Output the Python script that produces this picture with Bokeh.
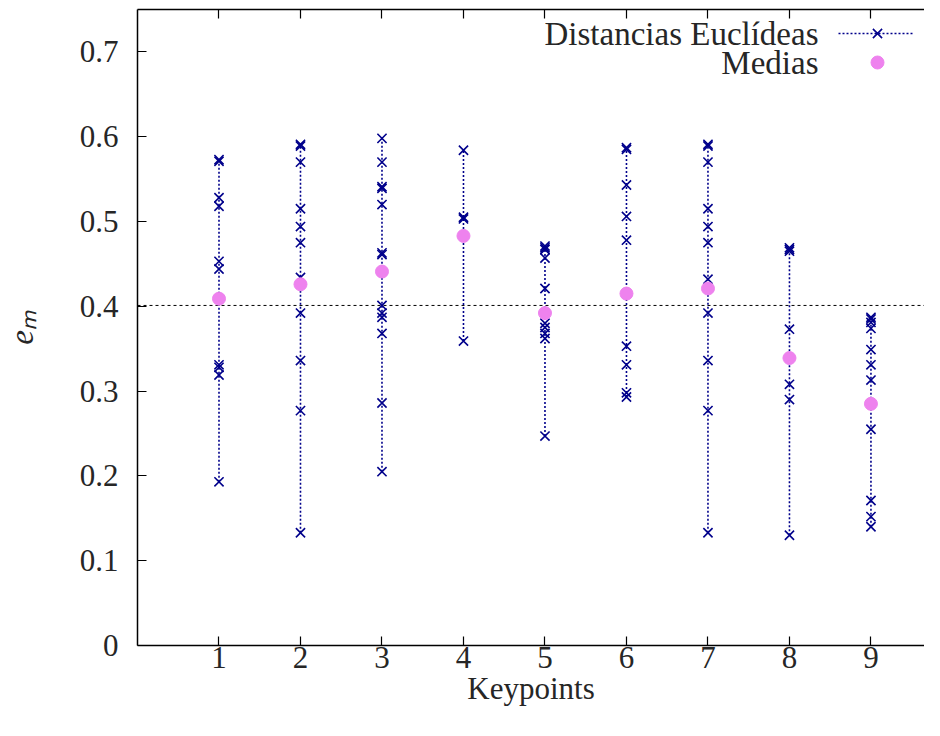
from bokeh.plotting import figure
from bokeh.models import (Range1d, FixedTicker, NumeralTickFormatter, LinearAxis,
                          Span, Label, CustomJSTickFormatter)
from bokeh.embed import file_html
from bokeh.resources import INLINE

# ---------------- data ----------------
keypoints = [1, 2, 3, 4, 5, 6, 7, 8, 9]
kp1 = [0.573, 0.571, 0.528, 0.518, 0.453, 0.444, 0.331, 0.328, 0.319, 0.193]
kp2 = [0.591, 0.589, 0.570, 0.515, 0.494, 0.475, 0.434, 0.392, 0.336, 0.277, 0.133]
kp3 = [0.598, 0.570, 0.541, 0.539, 0.520, 0.463, 0.461, 0.401, 0.392, 0.387, 0.368, 0.286, 0.205]
kp4 = [0.584, 0.505, 0.503, 0.359]
kp5 = [0.471, 0.469, 0.467, 0.457, 0.421, 0.380, 0.375, 0.368, 0.362, 0.247]
kp6 = [0.587, 0.585, 0.543, 0.506, 0.478, 0.353, 0.331, 0.298, 0.293]
kp7 = [0.591, 0.589, 0.570, 0.515, 0.494, 0.475, 0.432, 0.392, 0.336, 0.277, 0.133]
kp8 = [0.469, 0.467, 0.465, 0.373, 0.308, 0.290, 0.130]
kp9 = [0.387, 0.385, 0.381, 0.374, 0.349, 0.331, 0.313, 0.255, 0.171, 0.152, 0.140]
distancias = [kp1, kp2, kp3, kp4, kp5, kp6, kp7, kp8, kp9]
medias = [0.409, 0.426, 0.441, 0.483, 0.392, 0.415, 0.421, 0.339, 0.285]
media_global = 0.401
y_ticks = [0, 0.1, 0.2, 0.3, 0.4, 0.5, 0.6, 0.7]

serie1_label = "Distancias Euclídeas"
serie2_label = "Medias"
x_label = "Keypoints"
y_label = "eₘ"

# ---------------- style ----------------
FONT = "Liberation Serif"
TXT = "#262626"
BLUE = "#00008b"
VIOLET = "#ee82ee"
FS_TICK = "31px"
FS_XLAB = "31px"
FS_LAB = "33px"

W, H = 924, 720
BL, BT, BB = 137, 9, 75
FRAME_W, FRAME_H = W - BL, H - BT - BB

p = figure(width=W, height=H, output_backend="svg", toolbar_location=None,
           x_range=Range1d(0, 9.657), y_range=Range1d(0, 0.75),
           min_border_left=BL, min_border_right=0, min_border_top=BT,
           min_border_bottom=BB)
p.xgrid.visible = False
p.ygrid.visible = False
p.outline_line_color = None
p.background_fill_color = "white"
p.border_fill_color = "white"

# pixel-like ranges for the gnuplot-style legend (layout only)
p.extra_x_ranges = {"leg": Range1d(0, FRAME_W)}
p.extra_y_ranges = {"leg": Range1d(FRAME_H, 0)}

# axes
xa = p.xaxis[0]
xa.ticker = FixedTicker(ticks=keypoints)
ya = p.yaxis[0]
ya.ticker = FixedTicker(ticks=y_ticks)
ya.formatter = NumeralTickFormatter(format="0.[0]")
for ax in (xa, ya):
    ax.major_tick_in = 9
    ax.major_tick_out = 0
    ax.minor_tick_line_color = None
    ax.axis_line_width = 1.5
    ax.major_tick_line_width = 1.2
    ax.major_label_text_font = FONT
    ax.major_label_text_font_size = FS_TICK
    ax.major_label_text_color = TXT
    ax.axis_label_text_font = FONT
    ax.axis_label_text_font_size = FS_LAB
    ax.axis_label_text_color = TXT
    ax.axis_label_text_font_style = "normal"
xa.axis_label = x_label
xa.axis_label_text_font_size = FS_XLAB
xa.major_label_standoff = 1
xa.axis_label_standoff = 0
ya.axis_label = y_label
ya.axis_label_text_font_style = "italic"
ya.major_label_standoff = 19
ya.axis_label_standoff = 37

top = LinearAxis(ticker=FixedTicker(ticks=keypoints), major_tick_in=9,
                 major_tick_out=0, formatter=CustomJSTickFormatter(code="return ''"),
                 major_label_standoff=0, minor_tick_line_color=None,
                 major_label_text_color=None,
                 axis_line_width=1.5, major_tick_line_width=1.2)
p.add_layout(top, "above")

# reference line
p.add_layout(Span(location=media_global, dimension="width", line_color="black",
                  line_width=1, line_dash="3 3", level="underlay"))

# data: vertical dotted lines + crosses
xs_lines, ys_lines, xs_pts, ys_pts = [], [], [], []
for k, vals in zip(keypoints, distancias):
    sv = sorted(vals)
    xs_lines.append([k] * len(sv))
    ys_lines.append(sv)
    xs_pts += [k] * len(vals)
    ys_pts += vals
p.multi_line(xs=xs_lines, ys=ys_lines, line_color=BLUE, line_width=1.6,
             line_dash="2 2")
p.scatter(x=xs_pts, y=ys_pts, marker="x", size=13, line_color=BLUE,
          line_width=1.6)
p.scatter(x=keypoints, y=medias, marker="circle", size=13, fill_color=VIOLET,
          line_color=VIOLET)

# gnuplot-style legend (text right-aligned, sample at the right)
leg_text_x = 681
row1_y, row2_y = 24, 53
for txt, yy in ((serie1_label, row1_y), (serie2_label, row2_y)):
    p.add_layout(Label(x=leg_text_x, y=yy, x_range_name="leg", y_range_name="leg",
                       text=txt, text_align="right", text_baseline="middle",
                       text_font=FONT, text_font_size=FS_LAB, text_color=TXT))
p.line(x=[701, 776], y=[row1_y, row1_y], x_range_name="leg", y_range_name="leg",
       line_color=BLUE, line_width=1.6, line_dash="2 2")
p.scatter(x=[740], y=[row1_y], x_range_name="leg", y_range_name="leg",
          marker="x", size=13, line_color=BLUE, line_width=1.6)
p.scatter(x=[740], y=[row2_y], x_range_name="leg", y_range_name="leg",
          marker="circle", size=13, fill_color=VIOLET, line_color=VIOLET)

open("out.html", "w").write(file_html(p, INLINE))
